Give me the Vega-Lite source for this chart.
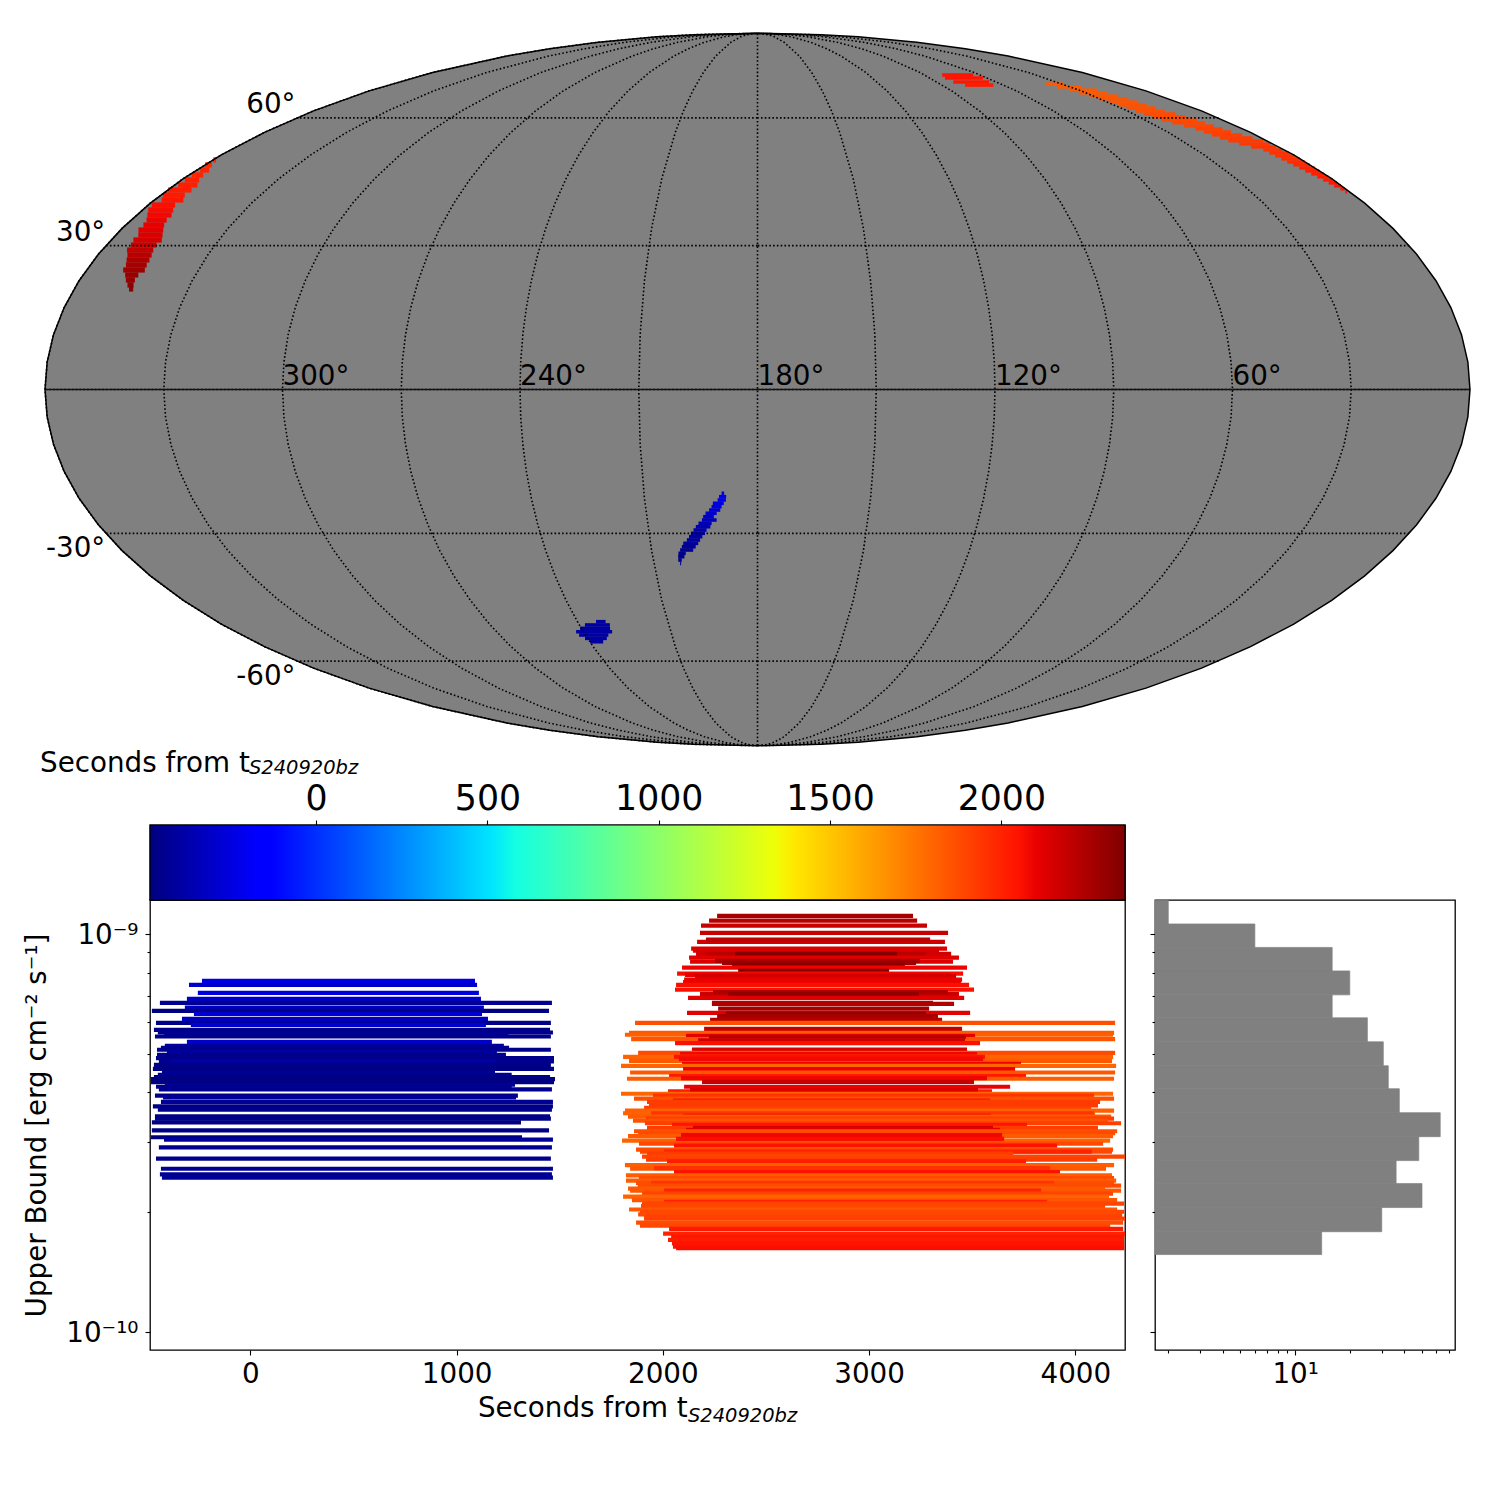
{
"$schema":"https://vega.github.io/schema/vega-lite/v6.json",
"padding":0,"background":"white",
"config":{"font":"DejaVu Sans","view":{"stroke":"black","strokeWidth":1.3},"axis":{"grid":false,"domain":false,"tickColor":"black","tickWidth":1.1,"labelColor":"black","titleColor":"black","labelFont":"DejaVu Sans","titleFont":"DejaVu Sans","labelFontWeight":"normal","titleFontWeight":"normal"}},
"datasets":{
"blobLeft":[
{"lon1":359.8,"lon2":358.9,"lat":49.42,"t":1990},{"lon1":359.8,"lon2":357.6,"lat":48.24,"t":1990},{"lon1":358.8,"lon2":355.9,"lat":47.02,"t":1995},{"lon1":359.0,"lon2":355.4,"lat":45.85,"t":2000},{"lon1":358.9,"lon2":354.4,"lat":44.68,"t":2005},{"lon1":358.7,"lon2":352.8,"lat":43.51,"t":2010},{"lon1":359.7,"lon2":352.6,"lat":42.37,"t":2020},{"lon1":359.2,"lon2":352.7,"lat":41.21,"t":2030},{"lon1":357.8,"lon2":351.3,"lat":40.08,"t":2040},{"lon1":358.9,"lon2":352.0,"lat":38.95,"t":2060},{"lon1":358.2,"lon2":350.9,"lat":37.83,"t":2070},{"lon1":356.8,"lon2":349.8,"lat":36.71,"t":2080},{"lon1":355.5,"lon2":349.7,"lat":35.60,"t":2095},{"lon1":354.9,"lon2":349.0,"lat":34.49,"t":2110},{"lon1":354.9,"lon2":347.9,"lat":33.40,"t":2125},{"lon1":353.6,"lon2":346.8,"lat":32.30,"t":2140},{"lon1":353.7,"lon2":345.8,"lat":31.21,"t":2155},{"lon1":353.2,"lon2":346.1,"lat":30.13,"t":2175},{"lon1":353.1,"lon2":345.9,"lat":29.05,"t":2200},{"lon1":351.9,"lon2":345.3,"lat":27.98,"t":2220},{"lon1":351.1,"lon2":344.9,"lat":26.91,"t":2245},{"lon1":350.3,"lon2":344.7,"lat":25.84,"t":2265},{"lon1":350.1,"lon2":344.3,"lat":24.77,"t":2285},{"lon1":348.7,"lon2":345.2,"lat":23.71,"t":2300},{"lon1":347.7,"lon2":345.3,"lat":22.65,"t":2310},{"lon1":346.5,"lon2":344.9,"lat":21.60,"t":2320},{"lon1":345.5,"lon2":344.4,"lat":20.76,"t":2330}],
"arc":[
{"lon1":38.7,"lon2":29.7,"lat":69.53,"t":1830},{"lon1":36.8,"lon2":24.9,"lat":68.63,"t":1830},{"lon1":34.6,"lon2":21.7,"lat":67.73,"t":1835},{"lon1":33.5,"lon2":20.6,"lat":66.9,"t":1835},{"lon1":32.2,"lon2":19.3,"lat":66.0,"t":1840},{"lon1":30.9,"lon2":17.9,"lat":65.2,"t":1850},{"lon1":29.6,"lon2":17.2,"lat":64.3,"t":1850},{"lon1":28.6,"lon2":16.6,"lat":63.5,"t":1855},{"lon1":27.7,"lon2":15.9,"lat":62.67,"t":1860},{"lon1":26.9,"lon2":15.0,"lat":61.85,"t":1865},{"lon1":26.0,"lon2":13.5,"lat":61.04,"t":1880},{"lon1":25.0,"lon2":12.0,"lat":60.26,"t":1880},{"lon1":24.0,"lon2":10.3,"lat":59.45,"t":1885},{"lon1":22.0,"lon2":9.5,"lat":58.67,"t":1890},{"lon1":19.9,"lon2":8.7,"lat":57.87,"t":1895},{"lon1":17.8,"lon2":7.8,"lat":57.1,"t":1905},{"lon1":16.8,"lon2":6.8,"lat":56.35,"t":1910},{"lon1":15.9,"lon2":5.0,"lat":55.58,"t":1915},{"lon1":15.0,"lon2":3.4,"lat":54.82,"t":1920},{"lon1":14.0,"lon2":1.7,"lat":54.07,"t":1925},{"lon1":12.0,"lon2":1.4,"lat":53.32,"t":1935},{"lon1":9.7,"lon2":1.2,"lat":52.58,"t":1950},{"lon1":7.4,"lon2":0.9,"lat":51.84,"t":1950},{"lon1":7.1,"lon2":0.5,"lat":51.1,"t":1955},{"lon1":6.8,"lon2":0.3,"lat":50.38,"t":1960},{"lon1":6.4,"lon2":0.3,"lat":49.65,"t":1965},{"lon1":6.1,"lon2":0.3,"lat":48.92,"t":1970},{"lon1":5.6,"lon2":0.3,"lat":48.24,"t":1980},{"lon1":5.2,"lon2":0.3,"lat":47.5,"t":2000},{"lon1":4.8,"lon2":0.3,"lat":46.78,"t":2010},{"lon1":4.3,"lon2":0.3,"lat":46.08,"t":2015},{"lon1":3.8,"lon2":0.3,"lat":45.38,"t":2020},{"lon1":3.3,"lon2":0.3,"lat":44.68,"t":2030},{"lon1":2.9,"lon2":0.3,"lat":43.98,"t":2035},{"lon1":2.5,"lon2":0.4,"lat":43.28,"t":2040},{"lon1":1.8,"lon2":0.5,"lat":42.6,"t":2045},{"lon1":1.5,"lon2":1.0,"lat":41.92,"t":2050}],
"blobSmall":[
{"lon1":80.7,"lon2":63.9,"lat":72.3,"t":2045},{"lon1":82.4,"lon2":62.6,"lat":71.36,"t":2045},{"lon1":82.0,"lon2":64.0,"lat":70.15,"t":2040},{"lon1":79.0,"lon2":65.2,"lat":69.22,"t":2020}],
"blobBlue":[
{"lon1":189.5,"lon2":188.8,"lat":-21.45,"t":-215},{"lon1":190.2,"lon2":188.3,"lat":-22.17,"t":-225},{"lon1":190.6,"lon2":188.4,"lat":-22.86,"t":-235},{"lon1":191.9,"lon2":189.0,"lat":-23.56,"t":-250},{"lon1":192.3,"lon2":189.6,"lat":-24.28,"t":-265},{"lon1":193.0,"lon2":190.0,"lat":-24.99,"t":-285},{"lon1":194.0,"lon2":191.0,"lat":-25.68,"t":-300},{"lon1":194.7,"lon2":191.8,"lat":-26.41,"t":-320},{"lon1":195.1,"lon2":191.1,"lat":-27.12,"t":-335},{"lon1":196.1,"lon2":192.5,"lat":-27.83,"t":-350},{"lon1":196.9,"lon2":192.9,"lat":-28.56,"t":-365},{"lon1":197.6,"lon2":194.0,"lat":-29.27,"t":-375},{"lon1":198.4,"lon2":194.5,"lat":-29.98,"t":-390},{"lon1":199.0,"lon2":195.3,"lat":-30.71,"t":-400},{"lon1":199.7,"lon2":196.0,"lat":-31.43,"t":-410},{"lon1":200.8,"lon2":196.6,"lat":-32.16,"t":-420},{"lon1":201.3,"lon2":197.4,"lat":-32.9,"t":-430},{"lon1":201.9,"lon2":198.2,"lat":-33.62,"t":-440},{"lon1":202.5,"lon2":200.4,"lat":-34.34,"t":-450},{"lon1":202.7,"lon2":200.9,"lat":-35.09,"t":-455},{"lon1":202.8,"lon2":201.8,"lat":-35.83,"t":-460},{"lon1":202.4,"lon2":202.1,"lat":-36.56,"t":-465},
{"lon1":233.8,"lon2":230.6,"lat":-50.06,"t":-400},{"lon1":238.1,"lon2":229.7,"lat":-50.85,"t":-400},{"lon1":240.4,"lon2":230.2,"lat":-51.67,"t":-400},{"lon1":242.5,"lon2":230.1,"lat":-52.51,"t":-400},{"lon1":242.2,"lon2":232.0,"lat":-53.32,"t":-400},{"lon1":240.9,"lon2":233.2,"lat":-54.15,"t":-400},{"lon1":239.9,"lon2":235.2,"lat":-55.0,"t":-400}],
"equator":[{"lon1":0.01,"lon2":359.99,"lat":0}],
"raLabels":[{"lon":300,"lat":0,"label":"300°"},{"lon":240,"lat":0,"label":"240°"},{"lon":180,"lat":0,"label":"180°"},{"lon":120,"lat":0,"label":"120°"},{"lon":60,"lat":0,"label":"60°"}],
"latN":[{"lon":359.6,"lat":60,"label":"60°"},{"lon":359.6,"lat":30,"label":"30°"}],
"latS":[{"lon":359.6,"lat":-30,"label":"-30°"},{"lon":359.6,"lat":-60,"label":"-60°"}],
"bars":[
{"t0":-235,"t1":1089,"ub":7.622e-10},{"t0":-298,"t1":1099,"ub":7.448e-10},{"t0":-255,"t1":1108,"ub":7.111e-10},{"t0":-308,"t1":1118,"ub":6.866e-10},{"t0":-439,"t1":1462,"ub":6.712e-10},{"t0":-318,"t1":1132,"ub":6.532e-10},{"t0":-478,"t1":1448,"ub":6.409e-10},{"t0":-274,"t1":1123,"ub":6.299e-10},{"t0":-458,"t1":1457,"ub":5.98e-10},{"t0":-332,"t1":1152,"ub":6.121e-10},{"t0":-289,"t1":1142,"ub":5.912e-10},{"t0":-468,"t1":1453,"ub":5.743e-10},{"t0":-449,"t1":1467,"ub":5.654e-10},{"t0":-419,"t1":1251,"ub":5.589e-10},{"t0":-463,"t1":1457,"ub":5.526e-10},{"t0":-308,"t1":1171,"ub":5.358e-10},{"t0":-415,"t1":1229,"ub":5.236e-10},{"t0":-434,"t1":1254,"ub":5.176e-10},{"t0":-453,"t1":1457,"ub":5.117e-10},{"t0":-405,"t1":1195,"ub":5.058e-10},{"t0":-453,"t1":1239,"ub":4.971e-10},{"t0":-458,"t1":1472,"ub":4.877e-10},{"t0":-444,"t1":1472,"ub":4.782e-10},{"t0":-386,"t1":1191,"ub":4.782e-10},{"t0":-468,"t1":1457,"ub":4.691e-10},{"t0":-473,"t1":1472,"ub":4.584e-10},{"t0":-429,"t1":1186,"ub":4.486e-10},{"t0":-449,"t1":1267,"ub":4.427e-10},{"t0":-468,"t1":1453,"ub":4.369e-10},{"t0":-482,"t1":1477,"ub":4.319e-10},{"t0":-482,"t1":1472,"ub":4.244e-10},{"t0":-415,"t1":1283,"ub":4.18e-10},{"t0":-458,"t1":1267,"ub":4.132e-10},{"t0":-444,"t1":1462,"ub":4.068e-10},{"t0":-463,"t1":1297,"ub":3.923e-10},{"t0":-424,"t1":1288,"ub":3.885e-10},{"t0":-434,"t1":1467,"ub":3.784e-10},{"t0":-473,"t1":1467,"ub":3.69e-10},{"t0":-449,"t1":1462,"ub":3.621e-10},{"t0":-463,"t1":1453,"ub":3.483e-10},{"t0":-463,"t1":1457,"ub":3.437e-10},{"t0":-478,"t1":1312,"ub":3.363e-10},{"t0":-478,"t1":1448,"ub":3.211e-10},{"t0":-482,"t1":1317,"ub":3.085e-10},{"t0":-419,"t1":1467,"ub":3.042e-10},{"t0":-444,"t1":1462,"ub":2.911e-10},{"t0":-458,"t1":1457,"ub":2.727e-10},{"t0":-434,"t1":1467,"ub":2.571e-10},{"t0":-439,"t1":1462,"ub":2.489e-10},{"t0":-429,"t1":1467,"ub":2.442e-10},
{"t0":2263,"t1":3213,"ub":1.1096e-9},{"t0":2224,"t1":3233,"ub":1.0798e-9},{"t0":2185,"t1":3281,"ub":1.0491e-9},{"t0":2180,"t1":3383,"ub":1.0058e-9},{"t0":2166,"t1":3368,"ub":9.548e-10},{"t0":2209,"t1":3296,"ub":9.676e-10},{"t0":2146,"t1":3339,"ub":9.081e-10},{"t0":2137,"t1":3378,"ub":9.186e-10},{"t0":2161,"t1":3398,"ub":8.908e-10},{"t0":2214,"t1":3271,"ub":8.908e-10},{"t0":2350,"t1":3136,"ub":8.908e-10},{"t0":2127,"t1":3436,"ub":8.72e-10},{"t0":2132,"t1":3407,"ub":8.522e-10},{"t0":2253,"t1":3247,"ub":8.557e-10},{"t0":2287,"t1":3228,"ub":8.456e-10},{"t0":2335,"t1":3174,"ub":8.36e-10},{"t0":2093,"t1":3475,"ub":8.23e-10},{"t0":2365,"t1":3097,"ub":8.075e-10},{"t0":2069,"t1":3456,"ub":7.95e-10},{"t0":2107,"t1":3393,"ub":7.89e-10},{"t0":2156,"t1":3422,"ub":7.832e-10},{"t0":2103,"t1":3451,"ub":7.68e-10},{"t0":2098,"t1":3446,"ub":7.565e-10},{"t0":2064,"t1":3485,"ub":7.448e-10},{"t0":2059,"t1":3509,"ub":7.247e-10},{"t0":2180,"t1":3436,"ub":7.058e-10},{"t0":2243,"t1":3383,"ub":7.14e-10},{"t0":2316,"t1":3242,"ub":7.058e-10},{"t0":2122,"t1":3461,"ub":6.909e-10},{"t0":2238,"t1":3412,"ub":6.674e-10},{"t0":2238,"t1":3310,"ub":6.712e-10},{"t0":2268,"t1":3291,"ub":6.495e-10},{"t0":2117,"t1":3490,"ub":6.335e-10},{"t0":2306,"t1":3276,"ub":6.309e-10},{"t0":2263,"t1":3334,"ub":6.215e-10},{"t0":2229,"t1":3354,"ub":6.085e-10},{"t0":1865,"t1":4193,"ub":5.98e-10},
{"t0":2200,"t1":3451,"ub":5.776e-10},{"t0":1836,"t1":4188,"ub":5.645e-10},{"t0":1816,"t1":4183,"ub":5.581e-10},{"t0":2112,"t1":3514,"ub":5.549e-10},{"t0":1846,"t1":4193,"ub":5.444e-10},{"t0":2224,"t1":3470,"ub":5.517e-10},{"t0":2171,"t1":3465,"ub":5.4e-10},{"t0":2059,"t1":3538,"ub":5.319e-10},{"t0":2141,"t1":3475,"ub":5.125e-10},{"t0":1880,"t1":4193,"ub":5.028e-10},{"t0":2083,"t1":3524,"ub":4.991e-10},{"t0":1807,"t1":4183,"ub":4.913e-10},{"t0":2054,"t1":3562,"ub":4.913e-10},{"t0":1836,"t1":4178,"ub":4.801e-10},{"t0":2078,"t1":3553,"ub":4.857e-10},{"t0":2093,"t1":3737,"ub":4.718e-10},{"t0":1797,"t1":4198,"ub":4.664e-10},{"t0":2098,"t1":3708,"ub":4.576e-10},{"t0":1841,"t1":4193,"ub":4.486e-10},{"t0":2030,"t1":3761,"ub":4.395e-10},{"t0":1826,"t1":4188,"ub":4.327e-10},{"t0":2088,"t1":3572,"ub":4.344e-10},{"t0":2190,"t1":3509,"ub":4.252e-10},{"t0":2103,"t1":3684,"ub":4.132e-10},{"t0":2025,"t1":3596,"ub":4.021e-10},{"t0":2132,"t1":3528,"ub":4.054e-10},{"t0":1797,"t1":4183,"ub":3.968e-10},{"t0":1952,"t1":4091,"ub":3.923e-10},{"t0":1860,"t1":4188,"ub":3.856e-10},{"t0":2049,"t1":3587,"ub":3.812e-10},{"t0":1923,"t1":4120,"ub":3.784e-10},{"t0":1933,"t1":4110,"ub":3.711e-10},{"t0":1909,"t1":4077,"ub":3.656e-10},{"t0":2069,"t1":3740,"ub":3.585e-10},{"t0":1816,"t1":4188,"ub":3.6e-10},{"t0":1807,"t1":4096,"ub":3.544e-10},{"t0":1943,"t1":4090,"ub":3.544e-10},{"t0":2098,"t1":3592,"ub":3.491e-10},{"t0":1831,"t1":4174,"ub":3.477e-10},{"t0":1918,"t1":4188,"ub":3.437e-10},{"t0":1855,"t1":4159,"ub":3.398e-10},{"t0":1913,"t1":4222,"ub":3.345e-10},{"t0":2044,"t1":3766,"ub":3.314e-10},{"t0":1923,"t1":4110,"ub":3.257e-10},{"t0":2146,"t1":3601,"ub":3.257e-10},{"t0":2112,"t1":3635,"ub":3.22e-10},{"t0":1860,"t1":4203,"ub":3.194e-10},{"t0":1880,"t1":4193,"ub":3.158e-10},
{"t0":1831,"t1":4183,"ub":3.104e-10},{"t0":2088,"t1":3645,"ub":3.122e-10},{"t0":1802,"t1":4169,"ub":3.025e-10},{"t0":2064,"t1":3655,"ub":3.056e-10},{"t0":1884,"t1":4135,"ub":2.973e-10},{"t0":2054,"t1":3912,"ub":2.939e-10},{"t0":1870,"t1":4183,"ub":2.872e-10},{"t0":1889,"t1":4178,"ub":2.839e-10},{"t0":2006,"t1":4080,"ub":2.839e-10},{"t0":1923,"t1":3700,"ub":2.807e-10},{"t0":1899,"t1":4241,"ub":2.758e-10},{"t0":1918,"t1":4106,"ub":2.711e-10},{"t0":2020,"t1":3761,"ub":2.685e-10},{"t0":1816,"t1":4188,"ub":2.625e-10},{"t0":1841,"t1":4149,"ub":2.572e-10},{"t0":1957,"t1":3878,"ub":2.58e-10},{"t0":2054,"t1":3926,"ub":2.522e-10},{"t0":1821,"t1":4178,"ub":2.475e-10},{"t0":1884,"t1":4188,"ub":2.436e-10},{"t0":1821,"t1":4198,"ub":2.4e-10},{"t0":1870,"t1":4188,"ub":2.369e-10},{"t0":1943,"t1":3897,"ub":2.369e-10},{"t0":1878,"t1":4222,"ub":2.332e-10},{"t0":1831,"t1":4144,"ub":2.292e-10},{"t0":1841,"t1":4222,"ub":2.266e-10},{"t0":2006,"t1":3834,"ub":2.266e-10},{"t0":1899,"t1":4183,"ub":2.227e-10},{"t0":1807,"t1":4164,"ub":2.189e-10},{"t0":1850,"t1":4203,"ub":2.143e-10},{"t0":2006,"t1":3863,"ub":2.123e-10},{"t0":1899,"t1":4237,"ub":2.102e-10},{"t0":1894,"t1":4144,"ub":2.07e-10},{"t0":1836,"t1":4203,"ub":2.031e-10},{"t0":1889,"t1":4237,"ub":2.005e-10},{"t0":1880,"t1":4227,"ub":1.974e-10},{"t0":1909,"t1":4227,"ub":1.948e-10},{"t0":1909,"t1":4241,"ub":1.926e-10},{"t0":1870,"t1":4232,"ub":1.883e-10},{"t0":1889,"t1":4169,"ub":1.851e-10},{"t0":2030,"t1":4232,"ub":1.816e-10},{"t0":2001,"t1":4241,"ub":1.767e-10},{"t0":2040,"t1":4237,"ub":1.733e-10},{"t0":2025,"t1":4237,"ub":1.703e-10},{"t0":2044,"t1":4237,"ub":1.67e-10},{"t0":2049,"t1":4237,"ub":1.639e-10},{"t0":2064,"t1":4237,"ub":1.623e-10}],
"hist":[
{"hi":1.2149e-9,"lo":1.0595e-9,"n":2},{"hi":1.0595e-9,"lo":9.25e-10,"n":6},{"hi":9.25e-10,"lo":8.075e-10,"n":16},{"hi":8.075e-10,"lo":7.03e-10,"n":20},{"hi":7.03e-10,"lo":6.155e-10,"n":16},{"hi":6.155e-10,"lo":5.358e-10,"n":25},{"hi":5.358e-10,"lo":4.664e-10,"n":30.6},{"hi":4.664e-10,"lo":4.084e-10,"n":32.6},{"hi":4.084e-10,"lo":3.556e-10,"n":37.5},{"hi":3.556e-10,"lo":3.095e-10,"n":63},{"hi":3.095e-10,"lo":2.695e-10,"n":48},{"hi":2.695e-10,"lo":2.359e-10,"n":36},{"hi":2.359e-10,"lo":2.054e-10,"n":50},{"hi":2.054e-10,"lo":1.786e-10,"n":30},{"hi":1.786e-10,"lo":1.565e-10,"n":14}]
},
"vconcat":[
{"width":1500,"height":750,"view":{"stroke":null},
"projection":{"type":"mollweide","scale":251.9,"translate":[757.5,389.5],"rotate":[180,0],"reflectX":true},
"layer":[
{"data":{"sphere":true},"mark":{"type":"geoshape","fill":"#808080","stroke":null}},
{"data":{"name":"blobLeft"},"mark":{"type":"rule","strokeWidth":5.2},"encoding":{"longitude":{"field":"lon1","type":"quantitative"},"latitude":{"field":"lat","type":"quantitative"},"longitude2":{"field":"lon2"},"latitude2":{"field":"lat"},"color":{"field":"t","type":"quantitative","legend":null,"scale":{"interpolate":"rgb","clamp":true,"domain":[-485,-172,-129,511,582,1336,1393,2048,2105,2361],"range":["#00007f","#0000ff","#0000ff","#00e5ff","#14ffe2","#eeff08","#ffe900","#ff1300","#e80000","#7f0000"]}}}},
{"data":{"name":"arc"},"mark":{"type":"rule","strokeWidth":3.3},"encoding":{"longitude":{"field":"lon1","type":"quantitative"},"latitude":{"field":"lat","type":"quantitative"},"longitude2":{"field":"lon2"},"latitude2":{"field":"lat"},"color":{"field":"t","type":"quantitative","legend":null}}},
{"data":{"name":"blobSmall"},"mark":{"type":"rule","strokeWidth":3.6},"encoding":{"longitude":{"field":"lon1","type":"quantitative"},"latitude":{"field":"lat","type":"quantitative"},"longitude2":{"field":"lon2"},"latitude2":{"field":"lat"},"color":{"field":"t","type":"quantitative","legend":null}}},
{"data":{"name":"blobBlue"},"mark":{"type":"rule","strokeWidth":3.6},"encoding":{"longitude":{"field":"lon1","type":"quantitative"},"latitude":{"field":"lat","type":"quantitative"},"longitude2":{"field":"lon2"},"latitude2":{"field":"lat"},"color":{"field":"t","type":"quantitative","legend":null}}},
{"data":{"graticule":{"step":[30,30],"extent":[[-180,-90],[180,90]]}},"mark":{"type":"geoshape","filled":false,"stroke":"black","strokeWidth":1.6,"strokeDash":[1.6,2.2]}},
{"data":{"name":"equator"},"mark":{"type":"rule","stroke":"#111111","strokeWidth":1.3},"encoding":{"longitude":{"field":"lon1","type":"quantitative"},"latitude":{"field":"lat","type":"quantitative"},"longitude2":{"field":"lon2"},"latitude2":{"field":"lat"}}},
{"data":{"sphere":true},"mark":{"type":"geoshape","filled":false,"stroke":"black","strokeWidth":1.5}},
{"data":{"name":"raLabels"},"mark":{"type":"text","fontSize":27.78,"align":"left","baseline":"alphabetic","dy":-5,"color":"black"},"encoding":{"longitude":{"field":"lon","type":"quantitative"},"latitude":{"field":"lat","type":"quantitative"},"text":{"field":"label"}}},
{"data":{"name":"latN"},"mark":{"type":"text","fontSize":27.78,"align":"right","baseline":"alphabetic","dx":-2,"dy":-5,"color":"black"},"encoding":{"longitude":{"field":"lon","type":"quantitative"},"latitude":{"field":"lat","type":"quantitative"},"text":{"field":"label"}}},
{"data":{"name":"latS"},"mark":{"type":"text","fontSize":27.78,"align":"right","baseline":"alphabetic","dx":-2,"dy":24,"color":"black"},"encoding":{"longitude":{"field":"lon","type":"quantitative"},"latitude":{"field":"lat","type":"quantitative"},"text":{"field":"label"}}}
]},
{"hconcat":[
{"width":120,"height":75,"view":{"stroke":null},"data":{"values":[{"a":0}]},"mark":{"type":"point","opacity":0},"encoding":{}},
{"width":975,"height":75,"layer":[
{"data":{"values":[{"a":-485,"b":2361,"y0":0,"y1":1}]},"mark":{"type":"rect","stroke":"black","strokeWidth":1.2,"fill":{"gradient":"linear","x1":0,"y1":0,"x2":1,"y2":0,"stops":[{"offset":0,"color":"#00007f"},{"offset":0.11,"color":"#0000ff"},{"offset":0.125,"color":"#0000ff"},{"offset":0.35,"color":"#00e5ff"},{"offset":0.375,"color":"#14ffe2"},{"offset":0.64,"color":"#eeff08"},{"offset":0.66,"color":"#ffe900"},{"offset":0.89,"color":"#ff1300"},{"offset":0.91,"color":"#e80000"},{"offset":1,"color":"#7f0000"}]}},
"encoding":{"x":{"field":"a","type":"quantitative","scale":{"domain":[-485,2361],"nice":false,"zero":false},"axis":{"orient":"top","title":null,"values":[0,500,1000,1500,2000],"format":"d","labelFontSize":34.72,"tickSize":5,"labelPadding":4,"labelFlush":false}},"x2":{"field":"b"},"y":{"field":"y0","type":"quantitative","scale":{"domain":[0,1]},"axis":null},"y2":{"field":"y1"}}},
{"data":{"values":[{"x":-806,"y":1.707,"label":"Seconds from t"}]},"mark":{"type":"text","fontSize":27.78,"align":"left","baseline":"alphabetic","color":"black"},"encoding":{"x":{"field":"x","type":"quantitative"},"y":{"field":"y","type":"quantitative"},"text":{"field":"label"}}},
{"data":{"values":[{"x":-196,"y":1.68,"label":"S240920bz"}]},"mark":{"type":"text","fontSize":19.44,"fontStyle":"italic","align":"left","baseline":"alphabetic","color":"black"},"encoding":{"x":{"field":"x","type":"quantitative"},"y":{"field":"y","type":"quantitative"},"text":{"field":"label"}}}
]}
],"spacing":30,"bounds":"flush"},
{"hconcat":[
{"width":120,"height":450,"view":{"stroke":null},"data":{"values":[{"a":0}]},"mark":{"type":"point","opacity":0},"encoding":{}},
{"width":975,"height":450,"layer":[
{"data":{"name":"bars"},"mark":{"type":"rule","strokeWidth":4.2,"clip":true},"encoding":{
"x":{"field":"t0","type":"quantitative","scale":{"domain":[-487,4241],"nice":false,"zero":false},"axis":{"title":null,"values":[0,1000,2000,3000,4000],"format":"d","labelFontSize":27.78,"tickSize":5,"labelPadding":5,"labelFlush":false}},
"x2":{"field":"t1"},
"y":{"field":"ub","type":"quantitative","scale":{"type":"log","domain":[9.01e-11,1.217e-9],"nice":false},"axis":{"title":"Upper Bound [erg cm⁻² s⁻¹]","titleFontSize":27.78,"titleX":-113,"titleY":225,"titleAngle":270,"titleAlign":"center","titleBaseline":"middle","values":[1e-10,2e-10,3e-10,4e-10,5e-10,6e-10,7e-10,8e-10,9e-10,1e-9],"labelExpr":"datum.value==1e-9?'10⁻⁹':datum.value==1e-10?'10⁻¹⁰':''","labelFontSize":27.78,"labelPadding":7,"labelOffset":2,"labelFlush":false,"tickSize":{"condition":{"test":"datum.value==1e-9||datum.value==1e-10","value":5},"value":3}}},
"color":{"field":"t0","type":"quantitative","legend":null,"scale":{"interpolate":"rgb","clamp":true,"domain":[-485,-172,-129,511,582,1336,1393,2048,2105,2361],"range":["#00007f","#0000ff","#0000ff","#00e5ff","#14ffe2","#eeff08","#ffe900","#ff1300","#e80000","#7f0000"]}}}},
{"data":{"values":[{"x":1103,"y":6.13e-11,"label":"Seconds from t"}]},"mark":{"type":"text","fontSize":27.78,"align":"left","baseline":"alphabetic","color":"black"},"encoding":{"x":{"field":"x","type":"quantitative"},"y":{"field":"y","type":"quantitative"},"text":{"field":"label"}}},
{"data":{"values":[{"x":2122,"y":5.93e-11,"label":"S240920bz"}]},"mark":{"type":"text","fontSize":19.44,"fontStyle":"italic","align":"left","baseline":"alphabetic","color":"black"},"encoding":{"x":{"field":"x","type":"quantitative"},"y":{"field":"y","type":"quantitative"},"text":{"field":"label"}}}
]},
{"width":300,"height":450,"data":{"name":"hist"},"mark":{"type":"rect","fill":"#808080","stroke":"#808080","strokeWidth":0.7,"clip":true},"encoding":{
"x":{"field":"n","type":"quantitative","scale":{"type":"log","domain":[1.69,76],"nice":false},"axis":{"title":null,"values":[2,3,4,5,6,7,8,9,10,20,30,40,50,60,70],"labelExpr":"datum.value==10?'10¹':''","labelFontSize":27.78,"labelPadding":5,"labelFlush":false,"tickSize":{"condition":{"test":"datum.value==10","value":5},"value":3}}},
"x2":{"datum":1.69},
"y":{"field":"lo","type":"quantitative","scale":{"type":"log","domain":[9.01e-11,1.217e-9],"nice":false},"axis":{"title":null,"values":[1e-10,2e-10,3e-10,4e-10,5e-10,6e-10,7e-10,8e-10,9e-10,1e-9],"labels":false,"tickSize":{"condition":{"test":"datum.value==1e-9||datum.value==1e-10","value":5},"value":3}}},
"y2":{"field":"hi"}}}
],"spacing":30,"bounds":"flush"}
],"spacing":75,"bounds":"flush"
}
